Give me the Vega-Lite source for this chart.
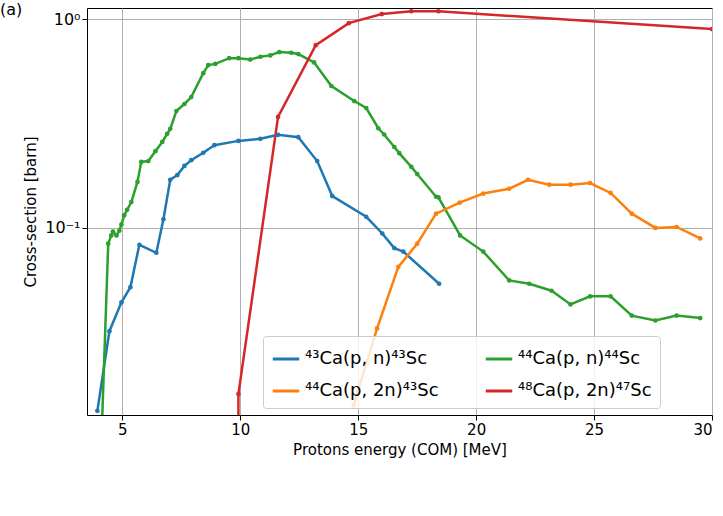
{
  "$schema": "https://vega.github.io/schema/vega-lite/v6.json",
  "width": 625,
  "height": 407,
  "autosize": "none",
  "padding": {"left": 87, "top": 8, "right": 11, "bottom": 101},
  "background": "white",
  "config": {"font": "DejaVu Sans", "view": {"stroke": "black", "strokeWidth": 1}},
  "title": {"text": "(a)", "anchor": "start", "frame": "group", "dx": -87, "offset": -8, "fontSize": 16, "fontWeight": "normal", "baseline": "top", "dy": 2},
  "data": {"values": [
    {"s": "⁴³Ca(p, n)⁴³Sc", "e": 3.94, "v": 0.0133},
    {"s": "⁴³Ca(p, n)⁴³Sc", "e": 4.45, "v": 0.032},
    {"s": "⁴³Ca(p, n)⁴³Sc", "e": 4.96, "v": 0.044},
    {"s": "⁴³Ca(p, n)⁴³Sc", "e": 5.34, "v": 0.052},
    {"s": "⁴³Ca(p, n)⁴³Sc", "e": 5.72, "v": 0.083},
    {"s": "⁴³Ca(p, n)⁴³Sc", "e": 6.44, "v": 0.076},
    {"s": "⁴³Ca(p, n)⁴³Sc", "e": 6.74, "v": 0.11},
    {"s": "⁴³Ca(p, n)⁴³Sc", "e": 7.03, "v": 0.17},
    {"s": "⁴³Ca(p, n)⁴³Sc", "e": 7.33, "v": 0.179},
    {"s": "⁴³Ca(p, n)⁴³Sc", "e": 7.63, "v": 0.198},
    {"s": "⁴³Ca(p, n)⁴³Sc", "e": 7.92, "v": 0.211},
    {"s": "⁴³Ca(p, n)⁴³Sc", "e": 8.43, "v": 0.229},
    {"s": "⁴³Ca(p, n)⁴³Sc", "e": 8.9, "v": 0.249},
    {"s": "⁴³Ca(p, n)⁴³Sc", "e": 9.92, "v": 0.261},
    {"s": "⁴³Ca(p, n)⁴³Sc", "e": 10.85, "v": 0.267},
    {"s": "⁴³Ca(p, n)⁴³Sc", "e": 11.6, "v": 0.279},
    {"s": "⁴³Ca(p, n)⁴³Sc", "e": 12.46, "v": 0.272},
    {"s": "⁴³Ca(p, n)⁴³Sc", "e": 13.26, "v": 0.209},
    {"s": "⁴³Ca(p, n)⁴³Sc", "e": 13.9, "v": 0.142},
    {"s": "⁴³Ca(p, n)⁴³Sc", "e": 15.34, "v": 0.113},
    {"s": "⁴³Ca(p, n)⁴³Sc", "e": 16.02, "v": 0.094},
    {"s": "⁴³Ca(p, n)⁴³Sc", "e": 16.53, "v": 0.08},
    {"s": "⁴³Ca(p, n)⁴³Sc", "e": 16.91, "v": 0.077},
    {"s": "⁴³Ca(p, n)⁴³Sc", "e": 18.43, "v": 0.054},
    {"s": "⁴⁴Ca(p, n)⁴⁴Sc", "e": 4.05, "v": 0.006},
    {"s": "⁴⁴Ca(p, n)⁴⁴Sc", "e": 4.4, "v": 0.084},
    {"s": "⁴⁴Ca(p, n)⁴⁴Sc", "e": 4.53, "v": 0.092},
    {"s": "⁴⁴Ca(p, n)⁴⁴Sc", "e": 4.6, "v": 0.096},
    {"s": "⁴⁴Ca(p, n)⁴⁴Sc", "e": 4.75, "v": 0.092},
    {"s": "⁴⁴Ca(p, n)⁴⁴Sc", "e": 4.87, "v": 0.097},
    {"s": "⁴⁴Ca(p, n)⁴⁴Sc", "e": 4.96, "v": 0.104},
    {"s": "⁴⁴Ca(p, n)⁴⁴Sc", "e": 5.08, "v": 0.115},
    {"s": "⁴⁴Ca(p, n)⁴⁴Sc", "e": 5.2, "v": 0.122},
    {"s": "⁴⁴Ca(p, n)⁴⁴Sc", "e": 5.38, "v": 0.133},
    {"s": "⁴⁴Ca(p, n)⁴⁴Sc", "e": 5.64, "v": 0.166},
    {"s": "⁴⁴Ca(p, n)⁴⁴Sc", "e": 5.8, "v": 0.207},
    {"s": "⁴⁴Ca(p, n)⁴⁴Sc", "e": 6.1, "v": 0.209},
    {"s": "⁴⁴Ca(p, n)⁴⁴Sc", "e": 6.4, "v": 0.233},
    {"s": "⁴⁴Ca(p, n)⁴⁴Sc", "e": 6.69, "v": 0.258},
    {"s": "⁴⁴Ca(p, n)⁴⁴Sc", "e": 6.9, "v": 0.282},
    {"s": "⁴⁴Ca(p, n)⁴⁴Sc", "e": 7.03, "v": 0.298},
    {"s": "⁴⁴Ca(p, n)⁴⁴Sc", "e": 7.29, "v": 0.363},
    {"s": "⁴⁴Ca(p, n)⁴⁴Sc", "e": 7.63, "v": 0.392},
    {"s": "⁴⁴Ca(p, n)⁴⁴Sc", "e": 7.92, "v": 0.423},
    {"s": "⁴⁴Ca(p, n)⁴⁴Sc", "e": 8.43, "v": 0.551},
    {"s": "⁴⁴Ca(p, n)⁴⁴Sc", "e": 8.64, "v": 0.602},
    {"s": "⁴⁴Ca(p, n)⁴⁴Sc", "e": 8.94, "v": 0.61},
    {"s": "⁴⁴Ca(p, n)⁴⁴Sc", "e": 9.53, "v": 0.65},
    {"s": "⁴⁴Ca(p, n)⁴⁴Sc", "e": 9.92, "v": 0.65},
    {"s": "⁴⁴Ca(p, n)⁴⁴Sc", "e": 10.42, "v": 0.64},
    {"s": "⁴⁴Ca(p, n)⁴⁴Sc", "e": 10.85, "v": 0.66},
    {"s": "⁴⁴Ca(p, n)⁴⁴Sc", "e": 11.27, "v": 0.67},
    {"s": "⁴⁴Ca(p, n)⁴⁴Sc", "e": 11.65, "v": 0.695},
    {"s": "⁴⁴Ca(p, n)⁴⁴Sc", "e": 12.16, "v": 0.69},
    {"s": "⁴⁴Ca(p, n)⁴⁴Sc", "e": 12.46, "v": 0.68},
    {"s": "⁴⁴Ca(p, n)⁴⁴Sc", "e": 13.13, "v": 0.62},
    {"s": "⁴⁴Ca(p, n)⁴⁴Sc", "e": 13.86, "v": 0.478},
    {"s": "⁴⁴Ca(p, n)⁴⁴Sc", "e": 14.83, "v": 0.405},
    {"s": "⁴⁴Ca(p, n)⁴⁴Sc", "e": 15.34, "v": 0.375},
    {"s": "⁴⁴Ca(p, n)⁴⁴Sc", "e": 15.85, "v": 0.3},
    {"s": "⁴⁴Ca(p, n)⁴⁴Sc", "e": 16.1, "v": 0.28},
    {"s": "⁴⁴Ca(p, n)⁴⁴Sc", "e": 16.53, "v": 0.244},
    {"s": "⁴⁴Ca(p, n)⁴⁴Sc", "e": 16.74, "v": 0.228},
    {"s": "⁴⁴Ca(p, n)⁴⁴Sc", "e": 17.25, "v": 0.196},
    {"s": "⁴⁴Ca(p, n)⁴⁴Sc", "e": 17.5, "v": 0.181},
    {"s": "⁴⁴Ca(p, n)⁴⁴Sc", "e": 18.3, "v": 0.141},
    {"s": "⁴⁴Ca(p, n)⁴⁴Sc", "e": 18.4, "v": 0.14},
    {"s": "⁴⁴Ca(p, n)⁴⁴Sc", "e": 19.32, "v": 0.092},
    {"s": "⁴⁴Ca(p, n)⁴⁴Sc", "e": 20.3, "v": 0.077},
    {"s": "⁴⁴Ca(p, n)⁴⁴Sc", "e": 21.4, "v": 0.056},
    {"s": "⁴⁴Ca(p, n)⁴⁴Sc", "e": 22.25, "v": 0.054},
    {"s": "⁴⁴Ca(p, n)⁴⁴Sc", "e": 23.2, "v": 0.05},
    {"s": "⁴⁴Ca(p, n)⁴⁴Sc", "e": 24.0, "v": 0.043},
    {"s": "⁴⁴Ca(p, n)⁴⁴Sc", "e": 24.83, "v": 0.047},
    {"s": "⁴⁴Ca(p, n)⁴⁴Sc", "e": 25.7, "v": 0.047},
    {"s": "⁴⁴Ca(p, n)⁴⁴Sc", "e": 26.6, "v": 0.038},
    {"s": "⁴⁴Ca(p, n)⁴⁴Sc", "e": 27.6, "v": 0.036},
    {"s": "⁴⁴Ca(p, n)⁴⁴Sc", "e": 28.5, "v": 0.038},
    {"s": "⁴⁴Ca(p, n)⁴⁴Sc", "e": 29.5, "v": 0.037},
    {"s": "⁴⁴Ca(p, 2n)⁴³Sc", "e": 14.8, "v": 0.0141},
    {"s": "⁴⁴Ca(p, 2n)⁴³Sc", "e": 15.8, "v": 0.033},
    {"s": "⁴⁴Ca(p, 2n)⁴³Sc", "e": 16.7, "v": 0.065},
    {"s": "⁴⁴Ca(p, 2n)⁴³Sc", "e": 17.5, "v": 0.084},
    {"s": "⁴⁴Ca(p, 2n)⁴³Sc", "e": 18.3, "v": 0.117},
    {"s": "⁴⁴Ca(p, 2n)⁴³Sc", "e": 19.3, "v": 0.132},
    {"s": "⁴⁴Ca(p, 2n)⁴³Sc", "e": 20.3, "v": 0.146},
    {"s": "⁴⁴Ca(p, 2n)⁴³Sc", "e": 21.4, "v": 0.154},
    {"s": "⁴⁴Ca(p, 2n)⁴³Sc", "e": 22.2, "v": 0.17},
    {"s": "⁴⁴Ca(p, 2n)⁴³Sc", "e": 23.1, "v": 0.161},
    {"s": "⁴⁴Ca(p, 2n)⁴³Sc", "e": 24.0, "v": 0.161},
    {"s": "⁴⁴Ca(p, 2n)⁴³Sc", "e": 24.83, "v": 0.164},
    {"s": "⁴⁴Ca(p, 2n)⁴³Sc", "e": 25.7, "v": 0.147},
    {"s": "⁴⁴Ca(p, 2n)⁴³Sc", "e": 26.6, "v": 0.117},
    {"s": "⁴⁴Ca(p, 2n)⁴³Sc", "e": 27.6, "v": 0.1},
    {"s": "⁴⁴Ca(p, 2n)⁴³Sc", "e": 28.5, "v": 0.101},
    {"s": "⁴⁴Ca(p, 2n)⁴³Sc", "e": 29.5, "v": 0.089},
    {"s": "⁴⁸Ca(p, 2n)⁴⁷Sc", "e": 9.92, "v": 0.005},
    {"s": "⁴⁸Ca(p, 2n)⁴⁷Sc", "e": 9.92, "v": 0.016},
    {"s": "⁴⁸Ca(p, 2n)⁴⁷Sc", "e": 11.6, "v": 0.34},
    {"s": "⁴⁸Ca(p, 2n)⁴⁷Sc", "e": 13.2, "v": 0.75},
    {"s": "⁴⁸Ca(p, 2n)⁴⁷Sc", "e": 14.6, "v": 0.956},
    {"s": "⁴⁸Ca(p, 2n)⁴⁷Sc", "e": 16.0, "v": 1.057},
    {"s": "⁴⁸Ca(p, 2n)⁴⁷Sc", "e": 17.25, "v": 1.09},
    {"s": "⁴⁸Ca(p, 2n)⁴⁷Sc", "e": 18.4, "v": 1.09},
    {"s": "⁴⁸Ca(p, 2n)⁴⁷Sc", "e": 30.0, "v": 0.896}
  ]},
  "mark": {"type": "line", "clip": true, "strokeWidth": 2.5, "point": {"size": 22, "filled": true}},
  "encoding": {
    "x": {"field": "e", "type": "quantitative",
      "scale": {"domain": [3.5, 30], "nice": false, "zero": false},
      "axis": {"values": [5, 10, 15, 20, 25, 30], "title": "Protons energy (COM) [MeV]", "titleFontSize": 15, "titleFontWeight": "normal", "titleColor": "black", "labelFontSize": 15, "labelColor": "black", "tickColor": "black", "domain": false, "gridColor": "#b0b0b0", "gridWidth": 1, "tickSize": 5, "titlePadding": 5}},
    "y": {"field": "v", "type": "quantitative",
      "scale": {"type": "log", "domain": [0.0127, 1.13], "nice": false},
      "axis": {"values": [0.1, 1], "labelExpr": "datum.value == 1 ? '10⁰' : '10⁻¹'", "title": "Cross-section [barn]", "titleFontSize": 15, "titleFontWeight": "normal", "titleColor": "black", "labelFontSize": 16, "labelColor": "black", "tickColor": "black", "domain": false, "gridColor": "#b0b0b0", "gridWidth": 1, "tickSize": 5, "titlePadding": 6}},
    "order": {"field": "e", "type": "quantitative"},
    "color": {"field": "s", "type": "nominal",
      "scale": {"domain": ["⁴³Ca(p, n)⁴³Sc", "⁴⁴Ca(p, 2n)⁴³Sc", "⁴⁴Ca(p, n)⁴⁴Sc", "⁴⁸Ca(p, 2n)⁴⁷Sc"], "range": ["#1f77b4", "#ff7f0e", "#2ca02c", "#d62728"]},
      "legend": {"orient": "none", "legendX": 176, "legendY": 328, "columns": 2, "title": null, "labelFontSize": 18, "labelColor": "black", "symbolType": "stroke", "symbolStrokeWidth": 3, "symbolSize": 700, "columnPadding": 40, "rowPadding": 8, "fillColor": "rgba(255,255,255,0.8)", "strokeColor": "#cccccc", "padding": 8, "cornerRadius": 3, "labelLimit": 300}}
  }
}
